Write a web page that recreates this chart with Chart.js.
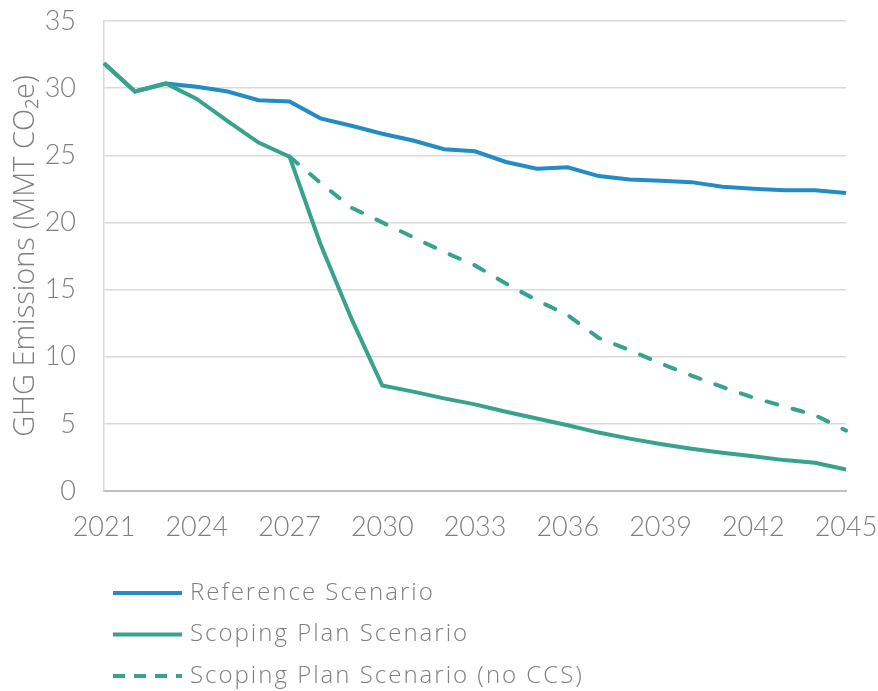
<!DOCTYPE html>
<html>
<head>
<meta charset="utf-8">
<script src="https://cdn.jsdelivr.net/npm/chart.js@4"></script>
<style>
  html, body { margin: 0; padding: 0; background: #fff; }
  canvas { display: block; }
</style>
</head>
<body>
<canvas id="myChart" width="878" height="691"></canvas>
<script>
const years = [
    2021, 2022, 2023, 2024, 2025, 2026, 2027, 2028, 2029, 2030, 2031, 2032, 2033,
    2034, 2035, 2036, 2037, 2038, 2039, 2040, 2041, 2042, 2043, 2044, 2045
];
const referenceScenario = [
    31.85, 29.75, 30.35, 30.1, 29.75, 29.1, 29.0, 27.75, 27.2, 26.6, 26.1, 25.45, 25.3,
    24.5, 24.0, 24.1, 23.45, 23.2, 23.1, 23.0, 22.65, 22.5, 22.4, 22.4, 22.2
];
const scopingPlan = [
    31.85, 29.75, 30.35, 29.2, 27.55, 25.95, 24.9, 18.4, 12.85, 7.85, 7.4, 6.9, 6.45,
    5.9, 5.4, 4.9, 4.35, 3.9, 3.5, 3.15, 2.85, 2.58, 2.3, 2.1, 1.6
];
const scopingPlanNoCCS = [
    null, null, null, null, null, null, 24.9, 22.95, 21.1, 20.0, 18.9, 17.8, 16.8,
    15.45, 14.2, 13.1, 11.4, 10.5, 9.5, 8.6, 7.75, 6.95, 6.3, 5.65, 4.5
];
const yTicks = { min: 0, max: 35, step: 5 };

const blue = 'rgb(36,140,196)';
const green = 'rgb(56,163,141)';
const textGray = '#7f7f7f';
const tickFont = 'Lato, sans-serif';
const textFont = '"Open Sans", Lato, sans-serif';

// legend drawn one item per row under the x axis
const stackedLegend = {
    id: 'stackedLegend',
    afterDraw(chart) {
        const ctx = chart.ctx;
        const area = chart.chartArea;
        const x0 = area.left + 9;
        const lineLen = 69;
        ctx.save();
        ctx.font = '300 24px ' + textFont;
        ctx.letterSpacing = '2px';
        ctx.textBaseline = 'middle';
        ctx.fillStyle = textGray;
        chart.data.datasets.forEach((ds, i) => {
            const y = area.bottom + 102 + i * 41.5;
            ctx.beginPath();
            ctx.strokeStyle = ds.borderColor;
            ctx.lineWidth = 4;
            ctx.setLineDash(ds.borderDash ? [12, 9] : []);
            ctx.moveTo(x0, y);
            ctx.lineTo(x0 + lineLen, y);
            ctx.stroke();
            ctx.setLineDash([]);
            ctx.fillText(ds.label, x0 + lineLen + 8, y);
        });
        ctx.restore();
    }
};

const data = {
    labels: years,
    datasets: [{
        label: 'Reference Scenario',
        data: referenceScenario,
        borderColor: blue,
        backgroundColor: blue,
        borderWidth: 4,
        pointRadius: 0,
        order: 3,
    }, {
        label: 'Scoping Plan Scenario',
        data: scopingPlan,
        borderColor: green,
        backgroundColor: green,
        borderWidth: 4,
        pointRadius: 0,
        order: 1,
    }, {
        label: 'Scoping Plan Scenario (no CCS)',
        data: scopingPlanNoCCS,
        borderColor: green,
        backgroundColor: green,
        borderWidth: 4,
        borderDash: [11, 16],
        borderCapStyle: 'round',
        pointRadius: 0,
        order: 2,
    }]
};

const config = {
    type: 'line',
    data: data,
    plugins: [stackedLegend],
    options: {
        responsive: false,
        devicePixelRatio: 1,
        animation: false,
        layout: { padding: { top: 21, right: 32, left: 0, bottom: 0 } },
        plugins: {
            legend: { display: false },
            tooltip: { enabled: false },
        },
        scales: {
            x: {
                grid: { display: false, drawTicks: false },
                border: { display: true, color: '#bfbfbf', width: 2 },
                ticks: {
                    autoSkip: false,
                    maxRotation: 0,
                    padding: 20,
                    color: textGray,
                    font: { family: tickFont, size: 27, weight: 300 },
                    callback: function (value, index) {
                        return index % 3 === 0 ? years[index] : null;
                    }
                },
                afterFit: function (scale) {
                    scale.height = 200;
                    scale.paddingLeft = 0;
                    scale.paddingRight = 0;
                }
            },
            y: {
                min: yTicks.min,
                max: yTicks.max,
                grid: { color: '#d9d9d9', lineWidth: 1.5, drawTicks: false },
                border: { display: true, color: '#d9d9d9', width: 1.5 },
                ticks: {
                    stepSize: yTicks.step,
                    padding: 28,
                    color: textGray,
                    font: { family: tickFont, size: 27, weight: 300 },
                },
                title: {
                    display: true,
                    text: 'GHG Emissions (MMT CO₂e)',
                    color: textGray,
                    font: { family: textFont, size: 29, weight: 300 },
                    padding: { top: 8, bottom: 0 },
                },
                afterFit: function (scale) {
                    scale.width = 104;
                    scale.paddingTop = 0;
                    scale.paddingBottom = 0;
                }
            }
        }
    }
};

const myChart = new Chart(
    document.getElementById('myChart'),
    config
);
</script>
</body>
</html>
